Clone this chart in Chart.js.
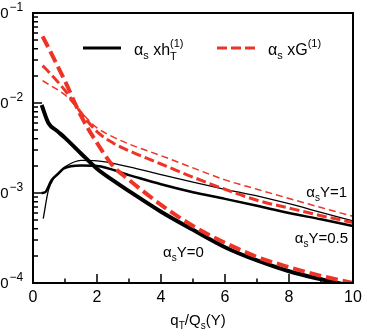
<!DOCTYPE html>
<html><head><meta charset="utf-8">
<script src="https://cdn.jsdelivr.net/npm/chart.js@4"></script>
<style>html,body{margin:0;padding:0;background:#fff}#w{width:374px;height:333px}</style>
</head><body><div id="w"><canvas id="c"></canvas></div>
<script>
// h_T (black) series
const qH0  = [0.27, 0.48, 0.75, 1, 1.5, 2, 2.5, 3, 4, 5, 6, 7, 8, 9, 10];
const hY0  = [9.5e-3, 6.0e-3, 4.9e-3, 4.1e-3, 2.75e-3, 1.86e-3, 1.38e-3, 1.05e-3, 6.2e-4, 3.9e-4, 2.5e-4, 1.78e-4, 1.35e-4, 1.1e-4, 9.2e-5];
const qH05 = [0.27, 0.38, 0.58, 0.8, 0.95, 1.5, 2, 3, 4, 5, 6, 7, 8, 9, 10];
const hY05 = [1.0e-3, 1.02e-3, 1.39e-3, 1.65e-3, 1.86e-3, 2.02e-3, 2.0e-3, 1.58e-3, 1.25e-3, 1.02e-3, 8.6e-4, 7.2e-4, 6.0e-4, 5.1e-4, 4.3e-4];
const qH1  = [0.32, 0.48, 0.65, 0.84, 1.0, 1.5, 2, 3, 4, 5, 6, 7, 8, 9, 10];
const hY1  = [5.2e-4, 1.07e-3, 1.45e-3, 1.74e-3, 1.95e-3, 2.3e-3, 2.28e-3, 1.95e-3, 1.6e-3, 1.32e-3, 1.1e-3, 9.3e-4, 7.6e-4, 6.1e-4, 4.9e-4];
// G (red dashed) series
const qG   = [0.3, 0.5, 1, 1.5, 2, 2.5, 3, 4, 5, 6, 7, 8, 9, 10];
const gY0  = [0.055, 0.040, 0.0175, 7.2e-3, 3.6e-3, 2.0e-3, 1.4e-3, 7.4e-4, 4.3e-4, 2.8e-4, 1.95e-4, 1.5e-4, 1.2e-4, 1.0e-4];
const gY05 = [0.026, 0.022, 0.0138, 7.8e-3, 4.8e-3, 3.6e-3, 2.95e-3, 2.1e-3, 1.5e-3, 1.1e-3, 8.3e-4, 6.8e-4, 5.6e-4, 4.7e-4];
const gY1  = [0.0177, 0.016, 0.0123, 7.9e-3, 5.3e-3, 4.2e-3, 3.5e-3, 2.6e-3, 1.9e-3, 1.4e-3, 1.1e-3, 8.7e-4, 6.9e-4, 5.5e-4];
// axis ticks
const xMajor = [0, 2, 4, 6, 8, 10];
const xMinor = [1, 3, 5, 7, 9];
const yDecades = [-4, -3, -2, -1];
const yLabels = ['10', '10', '10', '10'];
const ySup = ['\u22124', '\u22123', '\u22122', '\u22121'];

const RED = 'rgb(238,52,38)';
const FONT = '"Liberation Sans", Arial, Helvetica, sans-serif';
const pts = (xs, ys) => xs.map((x, i) => ({x: x, y: ys[i]}));

function rich(ctx, parts, x, y, align) {
  let w = 0;
  const ws = parts.map(p => { ctx.font = p[1] + 'px ' + FONT; return ctx.measureText(p[0]).width; });
  parts.forEach((p, i) => { if (!p[3]) w += ws[i]; });
  let cx = align === 'right' ? x - w : align === 'center' ? x - w / 2 : x;
  ctx.textBaseline = 'alphabetic'; ctx.textAlign = 'left';
  parts.forEach((p, i) => {
    ctx.font = p[1] + 'px ' + FONT;
    ctx.fillText(p[0], cx, y + p[2]);
    if (!p[3]) cx += ws[i];
  });
}

const deco = {
  id: 'deco',
  afterDraw(chart) {
    const ctx = chart.ctx, a = chart.chartArea, xs = chart.scales.x, ys = chart.scales.y;
    ctx.save();
    ctx.fillStyle = '#000'; ctx.strokeStyle = '#000';
    ctx.lineWidth = 2;
    ctx.strokeRect(a.left, a.top, a.right - a.left, a.bottom - a.top);
    ctx.lineWidth = 1.5;
    ctx.beginPath();
    xMajor.forEach(v => { const p = xs.getPixelForValue(v); ctx.moveTo(p, a.bottom); ctx.lineTo(p, a.bottom - 9); });
    xMinor.forEach(v => { const p = xs.getPixelForValue(v); ctx.moveTo(p, a.bottom); ctx.lineTo(p, a.bottom - 4.5); });
    yDecades.forEach(e => {
      for (let m = 1; m <= 9; m++) {
        if (e === -1 && m > 1) break;
        const p = ys.getPixelForValue(m * Math.pow(10, e));
        ctx.moveTo(a.left, p); ctx.lineTo(a.left + (m === 1 ? 9 : 5), p);
      }
    });
    ctx.stroke();
    ctx.font = '16px ' + FONT; ctx.textAlign = 'center'; ctx.textBaseline = 'alphabetic';
    xMajor.forEach(v => ctx.fillText(String(v), xs.getPixelForValue(v), 302));
    yDecades.forEach((e, i) => {
      const p = ys.getPixelForValue(Math.pow(10, e));
      rich(ctx, [[yLabels[i], 15, 0]], 8.5, p + 5, 'right');
      rich(ctx, [[ySup[i], 12, 0]], 9.5, p - 2, 'left');
    });
    rich(ctx, [['q', 15, 0], ['T', 10, 4], ['/Q', 15, 0], ['s', 10, 4], ['(Y)', 15, 0]], 198, 325, 'center');
    ctx.lineWidth = 3; ctx.strokeStyle = '#000';
    ctx.beginPath(); ctx.moveTo(83, 48); ctx.lineTo(121, 48); ctx.stroke();
    rich(ctx, [['\u03b1', 16, 0], ['s', 11, 4], [' xh', 16, 0], ['T', 11, 5, true], ['(1)', 11, -8]], 134, 55, 'left');
    ctx.strokeStyle = RED; ctx.setLineDash([10, 4]);
    ctx.beginPath(); ctx.moveTo(217, 48); ctx.lineTo(256, 48); ctx.stroke();
    ctx.setLineDash([]);
    rich(ctx, [['\u03b1', 16, 0], ['s', 11, 4], [' xG', 16, 0], ['(1)', 11, -8]], 268, 55, 'left');
    rich(ctx, [['\u03b1', 15, 0], ['s', 10, 4], ['Y=1', 15, 0]], 347, 197, 'right');
    rich(ctx, [['\u03b1', 15, 0], ['s', 10, 4], ['Y=0.5', 15, 0]], 348, 243, 'right');
    rich(ctx, [['\u03b1', 15, 0], ['s', 10, 4], ['Y=0', 15, 0]], 163, 257, 'left');
    ctx.restore();
  }
};

const line = (data, color, w, dash) => ({
  data: data, borderColor: color, borderWidth: w, borderDash: dash || [],
  pointRadius: 0, fill: false, cubicInterpolationMode: 'monotone', borderCapStyle: 'butt', borderJoinStyle: 'round'
});

new Chart(document.getElementById('c'), {
  type: 'line',
  data: {
    datasets: [
      line(pts(qG, gY0), RED, 4, [12, 5]),
      line(pts(qG, gY05), RED, 3, [10, 4]),
      line(pts(qG, gY1), RED, 1.5, [7, 4]),
      line(pts(qH0, hY0), '#000', 4),
      line(pts(qH05, hY05), '#000', 2.5),
      line(pts(qH1, hY1), '#000', 1.3)
    ]
  },
  options: {
    responsive: true, maintainAspectRatio: false, animation: false, devicePixelRatio: 1,
    layout: { padding: { left: 0, top: 13, right: 21, bottom: 0 } },
    plugins: { legend: { display: false }, tooltip: { enabled: false } },
    scales: {
      x: { type: 'linear', min: 0, max: 10,
           ticks: { display: false }, grid: { display: false, drawTicks: false }, border: { display: false },
           afterFit: s => { s.height = 50; } },
      y: { type: 'logarithmic', min: 1e-4, max: 1e-1,
           ticks: { display: false }, grid: { display: false, drawTicks: false }, border: { display: false },
           afterFit: s => { s.width = 33; } }
    }
  },
  plugins: [deco]
});
</script>
</body></html>
